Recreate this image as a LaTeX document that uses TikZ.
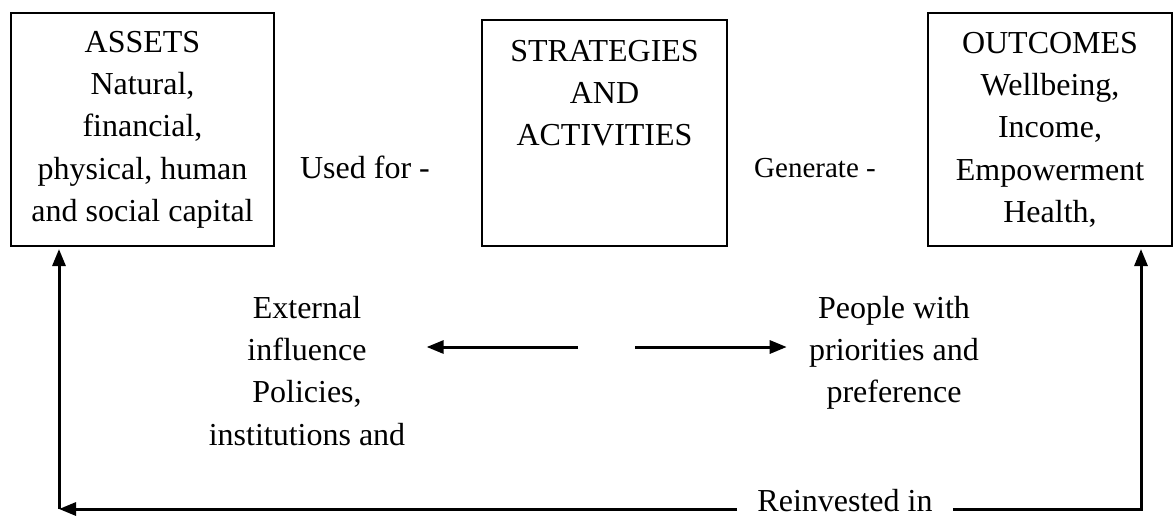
\documentclass[tikz,border=0pt]{standalone}
\usepackage{fontspec}
\setmainfont{Liberation Serif}
\usetikzlibrary{arrows.meta,positioning}

\begin{document}
\begin{tikzpicture}[x=0.5pt, y=-0.5pt,
        box/.style={draw, line width=1pt, inner sep=0pt, outer sep=0pt},
        txt/.style={align=center, inner sep=0pt, font=\fontsize{16}{21.1}\selectfont},
        arr/.style={line width=1.5pt, -{Triangle[length=8.5pt,width=6.5pt]}}]
                \useasboundingbox (0,0) rectangle (1173,515);

                \node[box, minimum width=131.5pt, minimum height=116.5pt] (assets) at (142.5,129.5) {};
                \node[box, minimum width=122.5pt, minimum height=113pt] (strat) at (604.5,133) {};
                \node[box, minimum width=122pt, minimum height=116.5pt] (outc) at (1050,129.5) {};

                \node[txt, below=4.8pt of assets.north] (assetstxt) {\strut ASSETS\\Natural,\\financial,\\physical, human\\and social capital};
                \node[txt, below=5.8pt of strat.north] (strattxt) {\strut STRATEGIES\\AND\\ACTIVITIES};
                \node[txt, below=5.3pt of outc.north] (outctxt) {\strut OUTCOMES\\Wellbeing,\\Income,\\Empowerment\\Health,};

                \node[txt, anchor=base] (usedfor) at (365,178) {Used for -};
                \node[txt, anchor=base, font=\fontsize{14.5}{17}\selectfont] (gen) at (815,177) {Generate -};

                \node[txt, anchor=north, inner xsep=10.5pt] (ext) at (307,288.6) {\strut External\\influence\\Policies,\\institutions and};
                \node[txt, anchor=north, inner xsep=11pt] (ppl) at (894,288.6) {\strut People with\\priorities and\\preference};
                \node[txt, anchor=base, inner xsep=10pt] (reinv) at (845,511) {Reinvested in};

                \coordinate (lc) at (59,509);
                \coordinate (rc) at (1141,509);
                \coordinate (ml) at (578,347);
                \coordinate (mr) at (635,347);

                \draw[arr] (ml) -- (ext.east |- ml);
                \draw[arr] (mr) -- (ppl.west |- mr);

                \draw[arr] (reinv.west |- lc) -- (lc);
                \draw[arr, shorten >=1.5pt] (lc) -- (assets.south -| lc);
                \draw[arr, shorten >=1.5pt] (reinv.east |- rc) -- (rc) -- (outc.south -| rc);
\end{tikzpicture}
\end{document}
